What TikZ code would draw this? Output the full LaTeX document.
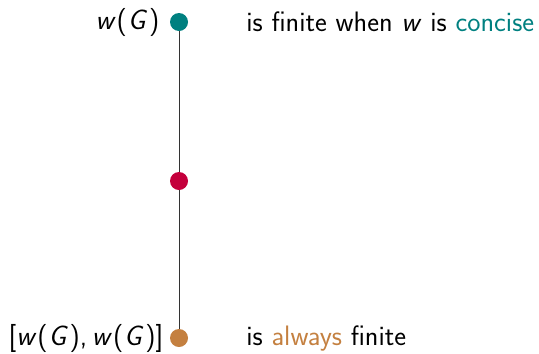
\documentclass[tikz,border=0pt]{standalone}
\usepackage{xcolor}
\usepackage{tikz}
\usetikzlibrary{positioning, calc}
\definecolor{conciseteal}{RGB}{0,128,128}
\definecolor{midcrimson}{RGB}{196,0,60}
\definecolor{alwaysbrown}{RGB}{196,128,64}
\tikzset{
  leveldot/.style={
    circle, inner sep=0pt, minimum size=0.36cm
  },
  levellabel/.style={
    font=\sffamily\fontsize{16}{19}\selectfont, inner sep=0pt
  },
  levelline/.style={
    thin, color=black!80
  },
}
\newcommand{\slw}{\textsl{w}\kern0.5pt}
\newcommand{\slG}{\kern0.5pt\textsl{G}\kern1pt}

\begin{document}
\begin{tikzpicture}
  \useasboundingbox (0,0) rectangle (10.78,7.06);

  % ── Dots on the chain ──────────────────────────────────────────
  \node[leveldot, fill=conciseteal] (top) at (3.58, 6.62) {};
  \node[leveldot, fill=midcrimson]  (mid) at (3.58, 3.44) {};
  \node[leveldot, fill=alwaysbrown] (bot) at (3.58, 0.30) {};

  \draw[levelline] (top) -- (mid);
  \draw[levelline] (mid) -- (bot);

  % ── Left labels ────────────────────────────────────────────────
  \node[levellabel, left=0.2cm of top]
    (wG) {\slw(\slG)};
  \node[levellabel, left=0.12cm of bot]
    (comm) {[\slw(\slG),\,\slw(\slG)]};

  % ── Right labels ───────────────────────────────────────────────
  \node[levellabel, anchor=west] (finite) at (4.92, 6.62)
    {is finite when \textsl{w} is \textcolor{conciseteal}{concise}};
  \node[levellabel, anchor=west] (always) at (4.92, 0.30)
    {is \textcolor{alwaysbrown}{always} finite};
\end{tikzpicture}
\end{document}
